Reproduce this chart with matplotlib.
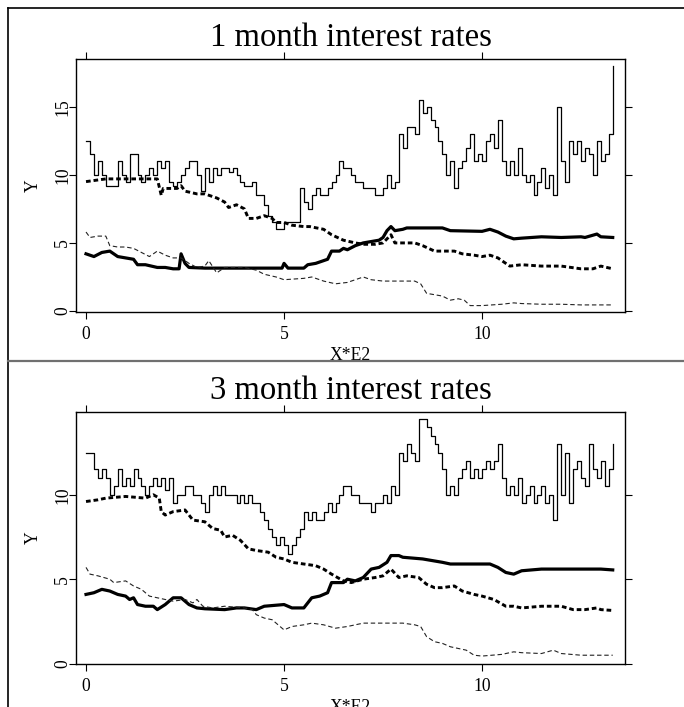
import numpy as np
import matplotlib
matplotlib.use('Agg')  # non-interactive backend
import matplotlib.pyplot as plt
from matplotlib.lines import Line2D

plt.rcParams['font.family'] = ['Liberation Serif', 'DejaVu Serif']

# ---- data (x in hundreds of observations, Y in percent) ----
# thin solid, sampled every 0.1 (x*E2)
m1_high = [12.5, 11.5, 10.0, 11.0, 10.0, 9.2, 9.2, 9.2, 11.0, 10.0,
           9.5, 11.5, 11.5, 10.0, 9.5, 10.0, 10.5, 10.0, 11.0, 10.5,
           11.0, 9.5, 9.2, 9.5, 10.0, 10.5, 11.0, 11.0, 10.0, 8.8,
           10.5, 9.5, 10.5, 10.0, 10.5, 10.5, 10.2, 10.5, 10.0, 9.5,
           9.2, 9.2, 9.5, 8.5, 8.5, 7.8, 7.0, 6.5, 6.0, 6.0,
           6.5, 6.5, 6.5, 6.5, 9.0, 8.0, 7.5, 8.5, 9.0, 8.5,
           8.5, 9.0, 9.5, 10.0, 11.0, 10.5, 10.5, 10.0, 9.5, 9.5,
           9.0, 9.0, 9.0, 8.5, 8.5, 9.0, 10.0, 9.0, 9.5, 13.0,
           12.0, 13.5, 13.5, 13.0, 15.5, 14.5, 15.0, 14.0, 13.5, 12.5,
           11.5, 10.0, 11.0, 9.0, 10.5, 11.0, 12.0, 13.0, 11.0, 11.5,
           11.0, 12.5, 13.0, 12.0, 14.0, 11.0, 10.0, 11.0, 10.0, 12.0,
           10.0, 9.5, 10.0, 8.5, 9.5, 10.5, 9.0, 10.0, 8.5, 15.0,
           11.0, 9.5, 12.5, 11.5, 12.5, 11.0, 12.0, 11.5, 10.0, 12.5,
           11.0, 11.5, 13.0, 18.0]

m3_high = [12.5, 12.5, 11.5, 11.0, 11.5, 11.0, 10.0, 10.5, 11.5, 10.5,
           11.0, 10.5, 11.5, 11.0, 10.5, 10.0, 10.5, 11.0, 10.5, 11.0,
           10.3, 11.0, 9.5, 10.0, 10.0, 10.5, 10.5, 10.0, 10.0, 9.5,
           9.0, 10.0, 10.5, 10.0, 10.5, 10.0, 10.0, 10.0, 9.5, 10.0,
           9.5, 10.0, 9.5, 9.5, 9.0, 8.5, 8.0, 7.5, 7.0, 7.5,
           7.0, 6.5, 7.0, 7.5, 8.0, 9.0, 8.5, 9.0, 8.5, 8.5,
           9.0, 9.5, 9.0, 9.5, 10.0, 10.5, 10.5, 10.0, 10.0, 9.5,
           9.5, 9.5, 9.0, 9.5, 9.5, 10.0, 9.5, 10.5, 10.0, 12.5,
           12.0, 13.0, 12.5, 12.0, 14.5, 14.5, 14.0, 13.5, 13.0, 12.5,
           11.5, 10.0, 10.5, 10.0, 11.0, 11.5, 12.0, 11.0, 11.5, 11.0,
           11.5, 12.0, 11.5, 12.0, 13.0, 11.0, 10.0, 10.5, 10.0, 11.0,
           9.5, 10.0, 10.5, 9.5, 10.0, 10.5, 9.5, 10.0, 8.5, 13.0,
           10.0, 12.5, 9.5, 11.5, 12.0, 11.0, 10.5, 13.0, 11.5, 11.0,
           12.0, 10.5, 11.5, 13.0]

# smoother series as (x, y) knots
m1_long = [(0, 9.5), (0.5, 9.7), (1.0, 9.7), (1.5, 9.7), (1.8, 9.7), (1.9, 8.5),
           (1.95, 9.0), (2.0, 9.0), (2.3, 9.0), (2.4, 9.2), (2.5, 8.8), (2.8, 8.6),
           (3.0, 8.6), (3.3, 8.3), (3.5, 8.0), (3.6, 7.6), (3.8, 7.8), (4.0, 7.5),
           (4.1, 6.8), (4.3, 6.8), (4.5, 7.0), (4.7, 6.8), (4.8, 6.5), (5.0, 6.5),
           (5.2, 6.3), (5.5, 6.2), (5.65, 6.2), (6.0, 6.0), (6.2, 5.6), (6.5, 5.2),
           (6.8, 5.0), (7.0, 4.9), (7.3, 4.9), (7.5, 5.0), (7.7, 5.6), (7.8, 5.0),
           (8.0, 5.0), (8.3, 5.0), (8.5, 4.8), (8.8, 4.4), (9.0, 4.4), (9.3, 4.4),
           (9.5, 4.2), (9.8, 4.1), (10.0, 4.0), (10.2, 4.1), (10.4, 3.9), (10.6, 3.5),
           (10.7, 3.3), (11.0, 3.4), (11.5, 3.3), (12.0, 3.3), (12.5, 3.1), (12.8, 3.1),
           (13.0, 3.3), (13.3, 3.1)]

m1_low = [(0, 5.8), (0.1, 5.4), (0.3, 5.5), (0.5, 5.5), (0.6, 4.8), (0.8, 4.7),
          (1.0, 4.7), (1.2, 4.6), (1.4, 4.3), (1.6, 4.0), (1.8, 4.4), (2.0, 4.1),
          (2.2, 3.9), (2.4, 3.9), (2.6, 3.5), (2.8, 3.2), (3.0, 3.3), (3.1, 3.7),
          (3.3, 2.8), (3.5, 3.2), (4.0, 3.2), (4.3, 3.0), (4.5, 2.7), (4.8, 2.5),
          (5.0, 2.3), (5.5, 2.4), (5.7, 2.5), (6.0, 2.2), (6.3, 2.0), (6.6, 2.1),
          (7.0, 2.5), (7.2, 2.3), (7.5, 2.2), (8.0, 2.2), (8.3, 2.2), (8.45, 2.0),
          (8.6, 1.3), (8.8, 1.2), (9.0, 1.1), (9.2, 0.8), (9.4, 0.9), (9.55, 0.8),
          (9.7, 0.4), (10.0, 0.4), (10.5, 0.5), (10.8, 0.6), (11.0, 0.55), (11.5, 0.5),
          (12.0, 0.5), (12.5, 0.45), (13.0, 0.45), (13.3, 0.45)]

m1_mid = [(0, 4.2), (0.2, 4.0), (0.4, 4.3), (0.6, 4.4), (0.8, 4.0), (1.0, 3.9),
          (1.2, 3.8), (1.3, 3.4), (1.5, 3.4), (1.8, 3.2), (2.0, 3.2), (2.2, 3.1),
          (2.35, 3.1), (2.4, 4.2), (2.5, 3.5), (2.6, 3.2), (3.0, 3.15), (4.95, 3.15),
          (5.0, 3.5), (5.1, 3.15), (5.5, 3.15), (5.6, 3.4), (5.8, 3.5), (6.0, 3.7),
          (6.1, 3.8), (6.2, 4.4), (6.4, 4.4), (6.5, 4.6), (6.6, 4.5), (6.8, 4.8),
          (7.0, 5.0), (7.2, 5.1), (7.4, 5.2), (7.5, 5.4), (7.6, 5.9), (7.7, 6.2),
          (7.8, 5.9), (8.0, 6.0), (8.1, 6.1), (9.0, 6.1), (9.2, 5.9), (10.0, 5.85),
          (10.2, 6.0), (10.4, 5.8), (10.6, 5.5), (10.8, 5.3), (11.0, 5.35), (11.5, 5.45),
          (12.0, 5.4), (12.5, 5.45), (12.6, 5.4), (12.9, 5.65), (13.0, 5.45), (13.3, 5.4)]

m3_long = [(0, 9.6), (0.3, 9.7), (0.5, 9.8), (1.0, 9.9), (1.5, 9.8), (1.7, 10.0),
           (1.85, 9.8), (1.9, 9.0), (2.0, 8.8), (2.2, 9.0), (2.5, 9.1), (2.7, 8.5),
           (3.0, 8.4), (3.2, 8.0), (3.4, 7.9), (3.5, 7.5), (3.7, 7.6), (3.9, 7.3),
           (4.1, 6.8), (4.3, 6.7), (4.6, 6.6), (4.8, 6.3), (5.0, 6.2), (5.2, 6.0),
           (5.5, 5.9), (5.8, 5.8), (6.0, 5.6), (6.2, 5.3), (6.5, 4.9), (6.7, 4.8),
           (7.0, 5.0), (7.3, 5.1), (7.5, 5.2), (7.7, 5.6), (7.9, 5.1), (8.1, 5.2),
           (8.4, 5.1), (8.6, 4.7), (8.8, 4.5), (9.0, 4.5), (9.3, 4.6), (9.5, 4.3),
           (9.8, 4.1), (10.0, 4.0), (10.3, 3.8), (10.6, 3.4), (10.8, 3.4), (11.0, 3.3),
           (11.5, 3.4), (12.0, 3.4), (12.3, 3.2), (12.6, 3.2), (12.9, 3.3), (13.0, 3.2),
           (13.3, 3.15)]

m3_low = [(0, 5.7), (0.1, 5.3), (0.3, 5.2), (0.6, 5.0), (0.7, 4.8), (1.0, 4.9),
          (1.2, 4.6), (1.4, 4.4), (1.6, 4.0), (1.8, 3.9), (2.0, 3.8), (2.2, 3.7),
          (2.5, 3.8), (2.7, 3.6), (2.8, 3.8), (2.95, 3.4), (3.2, 3.3), (3.5, 3.4),
          (4.0, 3.3), (4.2, 3.2), (4.3, 2.9), (4.5, 2.7), (4.7, 2.6), (4.9, 2.2),
          (5.0, 2.0), (5.2, 2.2), (5.5, 2.3), (5.7, 2.4), (6.0, 2.3), (6.3, 2.1),
          (6.6, 2.2), (7.0, 2.4), (7.5, 2.4), (8.0, 2.4), (8.3, 2.3), (8.45, 2.2),
          (8.6, 1.6), (8.8, 1.3), (9.0, 1.2), (9.2, 1.0), (9.4, 0.9), (9.6, 0.8),
          (9.8, 0.5), (10.0, 0.45), (10.5, 0.55), (10.8, 0.7), (11.0, 0.65), (11.5, 0.6),
          (11.8, 0.8), (12.0, 0.6), (12.5, 0.5), (13.0, 0.5), (13.3, 0.5)]

m3_mid = [(0, 4.1), (0.2, 4.2), (0.4, 4.4), (0.6, 4.3), (0.8, 4.1), (1.0, 4.0),
          (1.1, 3.8), (1.2, 3.9), (1.3, 3.5), (1.5, 3.4), (1.7, 3.4), (1.8, 3.2),
          (2.0, 3.5), (2.2, 3.9), (2.4, 3.9), (2.6, 3.5), (2.8, 3.3), (3.0, 3.25),
          (3.5, 3.2), (3.8, 3.3), (4.0, 3.3), (4.3, 3.2), (4.5, 3.4), (5.0, 3.5),
          (5.2, 3.3), (5.5, 3.3), (5.6, 3.6), (5.7, 3.9), (5.9, 4.0), (6.1, 4.2),
          (6.2, 4.8), (6.5, 4.8), (6.6, 5.0), (6.8, 4.9), (7.0, 5.1), (7.2, 5.6),
          (7.4, 5.7), (7.6, 6.0), (7.7, 6.4), (7.9, 6.4), (8.0, 6.3), (8.5, 6.2),
          (9.0, 6.0), (9.2, 5.9), (10.0, 5.9), (10.2, 5.9), (10.4, 5.7), (10.6, 5.4),
          (10.8, 5.3), (11.0, 5.5), (11.5, 5.6), (12.0, 5.6), (12.5, 5.6), (13.0, 5.6),
          (13.3, 5.55)]

panels = [
    ('1 month interest rates', m1_high, m1_long, m1_mid, m1_low, [0, 5, 10, 15], (-0.07, 18.5)),
    ('3 month interest rates', m3_high, m3_long, m3_mid, m3_low, [0, 5, 10], (-0.02, 14.9)),
]

W, H = 684, 707
fig = plt.figure(figsize=(W / 100, H / 100), dpi=100)

# axes boxes in pixel units: (left, top, right, bottom), title y
boxes = [((76, 59, 625, 312), 38), ((76, 412, 625, 664), 391)]

for (title, high, long_, mid, low, yticks, ylim), ((l, t, r, b), ty) in zip(panels, boxes):
    ax = fig.add_axes([l / W, 1 - b / H, (r - l) / W, (b - t) / H])
    x_high = np.arange(len(high)) / 10
    ax.plot(x_high, high, color='black', lw=0.9, drawstyle='steps-post')
    lx, ly = zip(*long_)
    ax.plot(lx, ly, color='black', lw=2.1, linestyle=(0, (1.6, 1.0)))
    mx, my = zip(*mid)
    ax.plot(mx, my, color='black', lw=2.3, solid_joinstyle='round')
    sx, sy = zip(*low)
    ax.plot(sx, sy, color='#222222', lw=0.8, linestyle=(0, (4, 2.5)))

    ax.set_xlim(-0.253, 13.61)
    ax.set_ylim(*ylim)
    ax.set_xticks([0, 5, 10])
    ax.set_yticks(yticks)
    ax.tick_params(direction='out', length=5, width=0.8, labelsize=12.7,
                   top=True, right=True, labeltop=False, labelright=False)
    ax.tick_params(axis='x', pad=5)
    ax.tick_params(axis='y', pad=-1.5)
    for lab in ax.get_yticklabels():
        lab.set_rotation(90)
        lab.set_va('center')
    for sp in ax.spines.values():
        sp.set_linewidth(1.0)
    ax.set_xlabel('X*E2', fontsize=12.7, labelpad=3)
    ax.set_ylabel('Y', fontsize=12.7, labelpad=9)
    fig.text((l + r) / 2 / W, 1 - ty / H, title, fontsize=23.5,
             ha='center', va='center')

# outer frame and divider between the two panels
fig.add_artist(Line2D([8 / W, 1], [1 - 8 / H, 1 - 8 / H], color='black', lw=1.2,
                      transform=fig.transFigure))
fig.add_artist(Line2D([8 / W, 8 / W], [0, 1 - 8 / H], color='black', lw=1.2,
                      transform=fig.transFigure))
fig.add_artist(Line2D([8 / W, 1], [1 - 361 / H, 1 - 361 / H], color='#707070', lw=1.6,
                      transform=fig.transFigure))

fig.savefig('out.png', dpi=100)
plt.close(fig)
